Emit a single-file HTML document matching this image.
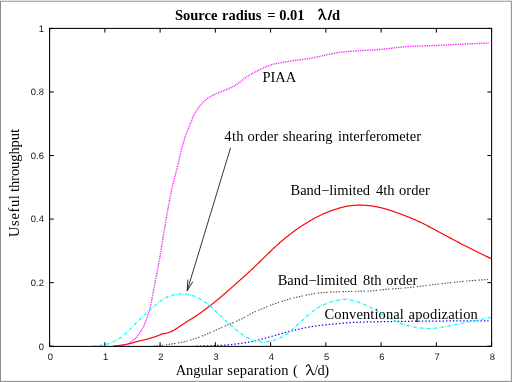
<!DOCTYPE html>
<html><head><meta charset="utf-8"><title>plot</title>
<style>
html,body{margin:0;padding:0;background:#fff;}
body{width:512px;height:382px;overflow:hidden;position:relative;font-family:"Liberation Sans",sans-serif;}
#b{position:absolute;left:0;top:0;width:512px;height:382px;will-change:transform;}
.e{position:absolute;}
</style></head><body>
<svg id="b" width="512" height="382" viewBox="0 0 512 382">
<rect x="0" y="0" width="512" height="382" fill="#fff"/>
<defs><clipPath id="cp"><rect x="50" y="28" width="441.2" height="320"/></clipPath></defs>
<g clip-path="url(#cp)">
<path d="M113.0,346.19 L113.5,346.14 L114.0,346.10 L114.5,346.05 L115.0,346.00 L115.5,345.95 L116.0,345.89 L116.5,345.84 L117.0,345.78 L117.5,345.72 L118.0,345.65 L118.5,345.59 L119.0,345.52 L119.5,345.45 L120.0,345.38 L120.5,345.31 L121.0,345.24 L121.5,345.16 L122.0,345.08 L122.5,345.01 L123.0,344.93 L123.5,344.85 L124.0,344.76 L124.5,344.68 L125.0,344.59 L125.5,344.50 L126.0,344.41 L126.5,344.31 L127.0,344.21 L127.5,344.10 L128.0,343.99 L128.5,343.87 L129.0,343.75 L129.5,343.63 L130.0,343.50 L130.5,343.37 L131.0,343.24 L131.5,343.11 L132.0,342.98 L132.5,342.84 L133.0,342.71 L133.5,342.57 L134.0,342.44 L134.5,342.30 L135.0,342.17 L135.5,342.04 L136.0,341.91 L136.5,341.78 L137.0,341.65 L137.5,341.53 L138.0,341.40 L138.5,341.28 L139.0,341.16 L139.5,341.04 L140.0,340.91 L140.5,340.79 L141.0,340.67 L141.5,340.55 L142.0,340.42 L142.5,340.30 L143.0,340.18 L143.5,340.05 L144.0,339.93 L144.5,339.80 L145.0,339.67 L145.5,339.54 L146.0,339.41 L146.5,339.28 L147.0,339.14 L147.5,339.00 L148.0,338.87 L148.5,338.72 L149.0,338.58 L149.5,338.44 L150.0,338.29 L150.5,338.14 L151.0,337.99 L151.5,337.83 L152.0,337.68 L152.5,337.52 L153.0,337.36 L153.5,337.20 L154.0,337.03 L154.5,336.87 L155.0,336.70 L155.5,336.53 L156.0,336.36 L156.5,336.19 L157.0,336.01 L157.5,335.83 L158.0,335.64 L158.5,335.45 L159.0,335.24 L159.5,335.03 L160.0,334.82 L160.5,334.61 L161.0,334.41 L161.5,334.22 L162.0,334.05 L162.5,333.90 L163.0,333.76 L163.5,333.65 L164.0,333.55 L164.5,333.46 L165.0,333.38 L165.5,333.30 L166.0,333.21 L166.5,333.11 L167.0,333.01 L167.5,332.89 L168.0,332.75 L168.5,332.60 L169.0,332.42 L169.5,332.24 L170.0,332.04 L170.5,331.82 L171.0,331.60 L171.5,331.37 L172.0,331.13 L172.5,330.88 L173.0,330.62 L173.5,330.35 L174.0,330.06 L174.5,329.77 L175.0,329.47 L175.5,329.16 L176.0,328.84 L176.5,328.52 L177.0,328.20 L177.5,327.88 L178.0,327.55 L178.5,327.23 L179.0,326.90 L179.5,326.57 L180.0,326.24 L180.5,325.90 L181.0,325.57 L181.5,325.23 L182.0,324.89 L182.5,324.55 L183.0,324.21 L183.5,323.87 L184.0,323.54 L184.5,323.21 L185.0,322.88 L185.5,322.56 L186.0,322.24 L186.5,321.92 L187.0,321.60 L187.5,321.28 L188.0,320.97 L188.5,320.66 L189.0,320.35 L189.5,320.04 L190.0,319.72 L190.5,319.41 L191.0,319.10 L191.5,318.79 L192.0,318.47 L192.5,318.16 L193.0,317.84 L193.5,317.52 L194.0,317.20 L194.5,316.88 L195.0,316.55 L195.5,316.23 L196.0,315.90 L196.5,315.56 L197.0,315.23 L197.5,314.89 L198.0,314.55 L198.5,314.21 L199.0,313.86 L199.5,313.52 L200.0,313.17 L200.5,312.82 L201.0,312.46 L201.5,312.11 L202.0,311.75 L202.5,311.39 L203.0,311.03 L203.5,310.67 L204.0,310.31 L204.5,309.94 L205.0,309.57 L205.5,309.20 L206.0,308.83 L206.5,308.46 L207.0,308.08 L207.5,307.71 L208.0,307.33 L208.5,306.95 L209.0,306.56 L209.5,306.18 L210.0,305.79 L210.5,305.40 L211.0,305.01 L211.5,304.62 L212.0,304.23 L212.5,303.83 L213.0,303.43 L213.5,303.03 L214.0,302.63 L214.5,302.23 L215.0,301.83 L215.5,301.42 L216.0,301.01 L216.5,300.60 L217.0,300.19 L217.5,299.78 L218.0,299.37 L218.5,298.95 L219.0,298.53 L219.5,298.12 L220.0,297.70 L220.5,297.28 L221.0,296.85 L221.5,296.43 L222.0,296.00 L222.5,295.58 L223.0,295.15 L223.5,294.72 L224.0,294.29 L224.5,293.86 L225.0,293.43 L225.5,292.99 L226.0,292.56 L226.5,292.12 L227.0,291.68 L227.5,291.25 L228.0,290.81 L228.5,290.37 L229.0,289.93 L229.5,289.48 L230.0,289.04 L230.5,288.60 L231.0,288.16 L231.5,287.71 L232.0,287.27 L232.5,286.82 L233.0,286.38 L233.5,285.93 L234.0,285.49 L234.5,285.04 L235.0,284.59 L235.5,284.15 L236.0,283.70 L236.5,283.25 L237.0,282.81 L237.5,282.36 L238.0,281.91 L238.5,281.47 L239.0,281.02 L239.5,280.57 L240.0,280.13 L240.5,279.68 L241.0,279.23 L241.5,278.78 L242.0,278.34 L242.5,277.89 L243.0,277.44 L243.5,276.99 L244.0,276.54 L244.5,276.09 L245.0,275.64 L245.5,275.19 L246.0,274.74 L246.5,274.29 L247.0,273.83 L247.5,273.38 L248.0,272.92 L248.5,272.47 L249.0,272.01 L249.5,271.55 L250.0,271.09 L250.5,270.62 L251.0,270.16 L251.5,269.69 L252.0,269.22 L252.5,268.76 L253.0,268.28 L253.5,267.81 L254.0,267.34 L254.5,266.86 L255.0,266.38 L255.5,265.90 L256.0,265.42 L256.5,264.94 L257.0,264.45 L257.5,263.97 L258.0,263.48 L258.5,262.99 L259.0,262.51 L259.5,262.02 L260.0,261.53 L260.5,261.03 L261.0,260.54 L261.5,260.05 L262.0,259.56 L262.5,259.07 L263.0,258.58 L263.5,258.08 L264.0,257.59 L264.5,257.10 L265.0,256.61 L265.5,256.12 L266.0,255.63 L266.5,255.14 L267.0,254.66 L267.5,254.17 L268.0,253.68 L268.5,253.20 L269.0,252.72 L269.5,252.24 L270.0,251.76 L270.5,251.28 L271.0,250.80 L271.5,250.33 L272.0,249.85 L272.5,249.38 L273.0,248.91 L273.5,248.45 L274.0,247.98 L274.5,247.52 L275.0,247.05 L275.5,246.59 L276.0,246.14 L276.5,245.68 L277.0,245.23 L277.5,244.78 L278.0,244.33 L278.5,243.88 L279.0,243.44 L279.5,242.99 L280.0,242.55 L280.5,242.12 L281.0,241.68 L281.5,241.25 L282.0,240.82 L282.5,240.39 L283.0,239.96 L283.5,239.54 L284.0,239.12 L284.5,238.70 L285.0,238.28 L285.5,237.87 L286.0,237.46 L286.5,237.05 L287.0,236.65 L287.5,236.25 L288.0,235.85 L288.5,235.45 L289.0,235.06 L289.5,234.66 L290.0,234.28 L290.5,233.89 L291.0,233.51 L291.5,233.13 L292.0,232.75 L292.5,232.38 L293.0,232.01 L293.5,231.64 L294.0,231.27 L294.5,230.91 L295.0,230.55 L295.5,230.19 L296.0,229.84 L296.5,229.49 L297.0,229.14 L297.5,228.80 L298.0,228.45 L298.5,228.11 L299.0,227.78 L299.5,227.44 L300.0,227.11 L300.5,226.78 L301.0,226.45 L301.5,226.12 L302.0,225.80 L302.5,225.48 L303.0,225.16 L303.5,224.84 L304.0,224.52 L304.5,224.21 L305.0,223.90 L305.5,223.59 L306.0,223.28 L306.5,222.97 L307.0,222.66 L307.5,222.36 L308.0,222.06 L308.5,221.75 L309.0,221.45 L309.5,221.16 L310.0,220.86 L310.5,220.57 L311.0,220.27 L311.5,219.98 L312.0,219.69 L312.5,219.41 L313.0,219.12 L313.5,218.84 L314.0,218.56 L314.5,218.28 L315.0,218.01 L315.5,217.73 L316.0,217.46 L316.5,217.20 L317.0,216.93 L317.5,216.67 L318.0,216.42 L318.5,216.16 L319.0,215.91 L319.5,215.67 L320.0,215.42 L320.5,215.18 L321.0,214.95 L321.5,214.72 L322.0,214.49 L322.5,214.26 L323.0,214.04 L323.5,213.82 L324.0,213.61 L324.5,213.39 L325.0,213.18 L325.5,212.98 L326.0,212.77 L326.5,212.57 L327.0,212.37 L327.5,212.18 L328.0,211.98 L328.5,211.79 L329.0,211.60 L329.5,211.41 L330.0,211.23 L330.5,211.04 L331.0,210.86 L331.5,210.68 L332.0,210.50 L332.5,210.32 L333.0,210.14 L333.5,209.97 L334.0,209.79 L334.5,209.62 L335.0,209.45 L335.5,209.28 L336.0,209.12 L336.5,208.96 L337.0,208.79 L337.5,208.64 L338.0,208.48 L338.5,208.33 L339.0,208.18 L339.5,208.03 L340.0,207.89 L340.5,207.75 L341.0,207.61 L341.5,207.48 L342.0,207.35 L342.5,207.22 L343.0,207.10 L343.5,206.98 L344.0,206.86 L344.5,206.75 L345.0,206.64 L345.5,206.54 L346.0,206.44 L346.5,206.34 L347.0,206.25 L347.5,206.16 L348.0,206.08 L348.5,206.00 L349.0,205.92 L349.5,205.85 L350.0,205.78 L350.5,205.72 L351.0,205.65 L351.5,205.60 L352.0,205.54 L352.5,205.49 L353.0,205.44 L353.5,205.40 L354.0,205.36 L354.5,205.32 L355.0,205.29 L355.5,205.25 L356.0,205.23 L356.5,205.20 L357.0,205.18 L357.5,205.17 L358.0,205.15 L358.5,205.14 L359.0,205.13 L359.5,205.13 L360.0,205.12 L360.5,205.13 L361.0,205.13 L361.5,205.14 L362.0,205.15 L362.5,205.16 L363.0,205.18 L363.5,205.20 L364.0,205.22 L364.5,205.25 L365.0,205.27 L365.5,205.31 L366.0,205.34 L366.5,205.38 L367.0,205.42 L367.5,205.46 L368.0,205.51 L368.5,205.56 L369.0,205.61 L369.5,205.66 L370.0,205.72 L370.5,205.78 L371.0,205.85 L371.5,205.91 L372.0,205.98 L372.5,206.06 L373.0,206.13 L373.5,206.21 L374.0,206.29 L374.5,206.38 L375.0,206.46 L375.5,206.56 L376.0,206.65 L376.5,206.74 L377.0,206.84 L377.5,206.95 L378.0,207.05 L378.5,207.16 L379.0,207.27 L379.5,207.38 L380.0,207.50 L380.5,207.62 L381.0,207.74 L381.5,207.86 L382.0,207.99 L382.5,208.12 L383.0,208.25 L383.5,208.38 L384.0,208.52 L384.5,208.66 L385.0,208.80 L385.5,208.94 L386.0,209.09 L386.5,209.24 L387.0,209.39 L387.5,209.54 L388.0,209.69 L388.5,209.85 L389.0,210.01 L389.5,210.17 L390.0,210.33 L390.5,210.49 L391.0,210.66 L391.5,210.82 L392.0,210.99 L392.5,211.16 L393.0,211.33 L393.5,211.50 L394.0,211.67 L394.5,211.85 L395.0,212.02 L395.5,212.20 L396.0,212.37 L396.5,212.55 L397.0,212.73 L397.5,212.91 L398.0,213.09 L398.5,213.27 L399.0,213.45 L399.5,213.63 L400.0,213.82 L400.5,214.00 L401.0,214.19 L401.5,214.37 L402.0,214.56 L402.5,214.74 L403.0,214.93 L403.5,215.12 L404.0,215.31 L404.5,215.50 L405.0,215.70 L405.5,215.89 L406.0,216.08 L406.5,216.28 L407.0,216.48 L407.5,216.67 L408.0,216.87 L408.5,217.07 L409.0,217.27 L409.5,217.48 L410.0,217.68 L410.5,217.89 L411.0,218.09 L411.5,218.30 L412.0,218.51 L412.5,218.73 L413.0,218.94 L413.5,219.15 L414.0,219.37 L414.5,219.59 L415.0,219.81 L415.5,220.03 L416.0,220.25 L416.5,220.48 L417.0,220.71 L417.5,220.93 L418.0,221.16 L418.5,221.40 L419.0,221.63 L419.5,221.87 L420.0,222.10 L420.5,222.34 L421.0,222.58 L421.5,222.83 L422.0,223.07 L422.5,223.31 L423.0,223.56 L423.5,223.81 L424.0,224.06 L424.5,224.31 L425.0,224.56 L425.5,224.82 L426.0,225.07 L426.5,225.33 L427.0,225.59 L427.5,225.84 L428.0,226.10 L428.5,226.36 L429.0,226.62 L429.5,226.89 L430.0,227.15 L430.5,227.41 L431.0,227.68 L431.5,227.94 L432.0,228.21 L432.5,228.47 L433.0,228.74 L433.5,229.01 L434.0,229.27 L434.5,229.54 L435.0,229.81 L435.5,230.08 L436.0,230.35 L436.5,230.61 L437.0,230.88 L437.5,231.15 L438.0,231.42 L438.5,231.69 L439.0,231.96 L439.5,232.23 L440.0,232.50 L440.5,232.77 L441.0,233.04 L441.5,233.31 L442.0,233.58 L442.5,233.85 L443.0,234.12 L443.5,234.39 L444.0,234.66 L444.5,234.92 L445.0,235.19 L445.5,235.46 L446.0,235.73 L446.5,236.00 L447.0,236.27 L447.5,236.54 L448.0,236.80 L448.5,237.07 L449.0,237.34 L449.5,237.61 L450.0,237.88 L450.5,238.14 L451.0,238.41 L451.5,238.68 L452.0,238.94 L452.5,239.21 L453.0,239.47 L453.5,239.74 L454.0,240.00 L454.5,240.27 L455.0,240.53 L455.5,240.80 L456.0,241.06 L456.5,241.32 L457.0,241.58 L457.5,241.85 L458.0,242.11 L458.5,242.37 L459.0,242.63 L459.5,242.89 L460.0,243.15 L460.5,243.41 L461.0,243.67 L461.5,243.93 L462.0,244.19 L462.5,244.44 L463.0,244.70 L463.5,244.96 L464.0,245.21 L464.5,245.47 L465.0,245.72 L465.5,245.98 L466.0,246.23 L466.5,246.49 L467.0,246.74 L467.5,246.99 L468.0,247.25 L468.5,247.50 L469.0,247.75 L469.5,248.00 L470.0,248.25 L470.5,248.50 L471.0,248.75 L471.5,249.00 L472.0,249.25 L472.5,249.50 L473.0,249.75 L473.5,250.00 L474.0,250.25 L474.5,250.49 L475.0,250.74 L475.5,250.99 L476.0,251.24 L476.5,251.48 L477.0,251.73 L477.5,251.98 L478.0,252.22 L478.5,252.47 L479.0,252.72 L479.5,252.96 L480.0,253.21 L480.5,253.46 L481.0,253.70 L481.5,253.95 L482.0,254.19 L482.5,254.44 L483.0,254.68 L483.5,254.93 L484.0,255.17 L484.5,255.42 L485.0,255.66 L485.5,255.91 L486.0,256.15 L486.5,256.40 L487.0,256.64 L487.5,256.88 L488.0,257.13 L488.5,257.37 L489.0,257.61 L489.5,257.85 L490.0,258.09 L490.5,258.34 L491.0,258.58 L491.2,258.82" fill="none" stroke="#ff0000" stroke-width="1.18"/>
<path d="M196.5,346.15 L197.0,346.14 L197.5,346.13 L198.0,346.12 L198.5,346.11 L199.0,346.10 L199.5,346.08 L200.0,346.07 L200.5,346.06 L201.0,346.05 L201.5,346.04 L202.0,346.02 L202.5,346.01 L203.0,346.00 L203.5,345.99 L204.0,345.97 L204.5,345.96 L205.0,345.94 L205.5,345.93 L206.0,345.92 L206.5,345.90 L207.0,345.89 L207.5,345.87 L208.0,345.85 L208.5,345.84 L209.0,345.82 L209.5,345.81 L210.0,345.79 L210.5,345.77 L211.0,345.75 L211.5,345.74 L212.0,345.72 L212.5,345.70 L213.0,345.68 L213.5,345.66 L214.0,345.64 L214.5,345.62 L215.0,345.60 L215.5,345.58 L216.0,345.56 L216.5,345.54 L217.0,345.51 L217.5,345.49 L218.0,345.47 L218.5,345.44 L219.0,345.42 L219.5,345.39 L220.0,345.37 L220.5,345.34 L221.0,345.31 L221.5,345.28 L222.0,345.25 L222.5,345.22 L223.0,345.18 L223.5,345.15 L224.0,345.12 L224.5,345.08 L225.0,345.04 L225.5,345.01 L226.0,344.97 L226.5,344.93 L227.0,344.89 L227.5,344.84 L228.0,344.80 L228.5,344.76 L229.0,344.71 L229.5,344.67 L230.0,344.62 L230.5,344.57 L231.0,344.52 L231.5,344.48 L232.0,344.42 L232.5,344.37 L233.0,344.32 L233.5,344.27 L234.0,344.22 L234.5,344.16 L235.0,344.11 L235.5,344.05 L236.0,343.99 L236.5,343.94 L237.0,343.88 L237.5,343.82 L238.0,343.76 L238.5,343.70 L239.0,343.63 L239.5,343.57 L240.0,343.50 L240.5,343.44 L241.0,343.37 L241.5,343.30 L242.0,343.23 L242.5,343.16 L243.0,343.08 L243.5,343.01 L244.0,342.93 L244.5,342.86 L245.0,342.78 L245.5,342.70 L246.0,342.62 L246.5,342.53 L247.0,342.45 L247.5,342.36 L248.0,342.27 L248.5,342.18 L249.0,342.09 L249.5,342.00 L250.0,341.90 L250.5,341.81 L251.0,341.71 L251.5,341.61 L252.0,341.51 L252.5,341.40 L253.0,341.29 L253.5,341.19 L254.0,341.08 L254.5,340.97 L255.0,340.85 L255.5,340.74 L256.0,340.62 L256.5,340.50 L257.0,340.38 L257.5,340.26 L258.0,340.14 L258.5,340.01 L259.0,339.88 L259.5,339.76 L260.0,339.63 L260.5,339.50 L261.0,339.36 L261.5,339.23 L262.0,339.10 L262.5,338.96 L263.0,338.82 L263.5,338.68 L264.0,338.55 L264.5,338.40 L265.0,338.26 L265.5,338.12 L266.0,337.98 L266.5,337.84 L267.0,337.69 L267.5,337.55 L268.0,337.41 L268.5,337.26 L269.0,337.12 L269.5,336.97 L270.0,336.83 L270.5,336.69 L271.0,336.54 L271.5,336.40 L272.0,336.25 L272.5,336.11 L273.0,335.97 L273.5,335.83 L274.0,335.68 L274.5,335.54 L275.0,335.40 L275.5,335.26 L276.0,335.12 L276.5,334.97 L277.0,334.83 L277.5,334.69 L278.0,334.55 L278.5,334.41 L279.0,334.28 L279.5,334.14 L280.0,334.00 L280.5,333.86 L281.0,333.72 L281.5,333.59 L282.0,333.45 L282.5,333.31 L283.0,333.18 L283.5,333.04 L284.0,332.91 L284.5,332.78 L285.0,332.64 L285.5,332.51 L286.0,332.38 L286.5,332.25 L287.0,332.12 L287.5,331.99 L288.0,331.86 L288.5,331.73 L289.0,331.60 L289.5,331.47 L290.0,331.34 L290.5,331.22 L291.0,331.09 L291.5,330.96 L292.0,330.84 L292.5,330.71 L293.0,330.59 L293.5,330.47 L294.0,330.35 L294.5,330.22 L295.0,330.10 L295.5,329.98 L296.0,329.86 L296.5,329.75 L297.0,329.63 L297.5,329.51 L298.0,329.40 L298.5,329.28 L299.0,329.17 L299.5,329.05 L300.0,328.94 L300.5,328.83 L301.0,328.72 L301.5,328.61 L302.0,328.50 L302.5,328.39 L303.0,328.28 L303.5,328.17 L304.0,328.07 L304.5,327.96 L305.0,327.86 L305.5,327.75 L306.0,327.65 L306.5,327.55 L307.0,327.45 L307.5,327.35 L308.0,327.26 L308.5,327.16 L309.0,327.07 L309.5,326.98 L310.0,326.89 L310.5,326.80 L311.0,326.71 L311.5,326.63 L312.0,326.55 L312.5,326.47 L313.0,326.39 L313.5,326.31 L314.0,326.23 L314.5,326.16 L315.0,326.09 L315.5,326.02 L316.0,325.95 L316.5,325.88 L317.0,325.82 L317.5,325.75 L318.0,325.69 L318.5,325.62 L319.0,325.56 L319.5,325.50 L320.0,325.44 L320.5,325.39 L321.0,325.33 L321.5,325.27 L322.0,325.22 L322.5,325.16 L323.0,325.11 L323.5,325.05 L324.0,325.00 L324.5,324.94 L325.0,324.89 L325.5,324.84 L326.0,324.79 L326.5,324.74 L327.0,324.69 L327.5,324.64 L328.0,324.59 L328.5,324.54 L329.0,324.49 L329.5,324.44 L330.0,324.39 L330.5,324.34 L331.0,324.30 L331.5,324.25 L332.0,324.20 L332.5,324.16 L333.0,324.11 L333.5,324.06 L334.0,324.02 L334.5,323.97 L335.0,323.93 L335.5,323.88 L336.0,323.84 L336.5,323.79 L337.0,323.75 L337.5,323.71 L338.0,323.66 L338.5,323.62 L339.0,323.57 L339.5,323.53 L340.0,323.49 L340.5,323.44 L341.0,323.40 L341.5,323.35 L342.0,323.31 L342.5,323.27 L343.0,323.22 L343.5,323.18 L344.0,323.14 L344.5,323.10 L345.0,323.05 L345.5,323.01 L346.0,322.97 L346.5,322.93 L347.0,322.89 L347.5,322.85 L348.0,322.81 L348.5,322.78 L349.0,322.74 L349.5,322.71 L350.0,322.67 L350.5,322.64 L351.0,322.60 L351.5,322.57 L352.0,322.54 L352.5,322.51 L353.0,322.48 L353.5,322.46 L354.0,322.43 L354.5,322.40 L355.0,322.38 L355.5,322.35 L356.0,322.33 L356.5,322.31 L357.0,322.29 L357.5,322.26 L358.0,322.24 L358.5,322.22 L359.0,322.20 L359.5,322.18 L360.0,322.16 L360.5,322.14 L361.0,322.13 L361.5,322.11 L362.0,322.09 L362.5,322.07 L363.0,322.06 L363.5,322.04 L364.0,322.02 L364.5,322.01 L365.0,321.99 L365.5,321.98 L366.0,321.97 L366.5,321.95 L367.0,321.94 L367.5,321.93 L368.0,321.91 L368.5,321.90 L369.0,321.89 L369.5,321.88 L370.0,321.86 L370.5,321.85 L371.0,321.84 L371.5,321.83 L372.0,321.82 L372.5,321.81 L373.0,321.80 L373.5,321.79 L374.0,321.78 L374.5,321.77 L375.0,321.76 L375.5,321.75 L376.0,321.75 L376.5,321.74 L377.0,321.73 L377.5,321.72 L378.0,321.71 L378.5,321.70 L379.0,321.70 L379.5,321.69 L380.0,321.68 L380.5,321.67 L381.0,321.67 L381.5,321.66 L382.0,321.65 L382.5,321.64 L383.0,321.64 L383.5,321.63 L384.0,321.62 L384.5,321.62 L385.0,321.61 L385.5,321.60 L386.0,321.60 L386.5,321.59 L387.0,321.58 L387.5,321.58 L388.0,321.57 L388.5,321.56 L389.0,321.56 L389.5,321.55 L390.0,321.55 L390.5,321.54 L391.0,321.53 L391.5,321.53 L392.0,321.52 L392.5,321.51 L393.0,321.51 L393.5,321.50 L394.0,321.49 L394.5,321.49 L395.0,321.48 L395.5,321.48 L396.0,321.47 L396.5,321.46 L397.0,321.46 L397.5,321.45 L398.0,321.44 L398.5,321.44 L399.0,321.43 L399.5,321.42 L400.0,321.41 L400.5,321.41 L401.0,321.40 L401.5,321.39 L402.0,321.39 L402.5,321.38 L403.0,321.37 L403.5,321.36 L404.0,321.36 L404.5,321.35 L405.0,321.34 L405.5,321.33 L406.0,321.33 L406.5,321.32 L407.0,321.31 L407.5,321.30 L408.0,321.30 L408.5,321.29 L409.0,321.28 L409.5,321.27 L410.0,321.27 L410.5,321.26 L411.0,321.25 L411.5,321.24 L412.0,321.24 L412.5,321.23 L413.0,321.22 L413.5,321.21 L414.0,321.21 L414.5,321.20 L415.0,321.19 L415.5,321.19 L416.0,321.18 L416.5,321.17 L417.0,321.17 L417.5,321.16 L418.0,321.16 L418.5,321.15 L419.0,321.14 L419.5,321.14 L420.0,321.13 L420.5,321.13 L421.0,321.12 L421.5,321.12 L422.0,321.12 L422.5,321.11 L423.0,321.11 L423.5,321.10 L424.0,321.10 L424.5,321.10 L425.0,321.09 L425.5,321.09 L426.0,321.09 L426.5,321.08 L427.0,321.08 L427.5,321.08 L428.0,321.07 L428.5,321.07 L429.0,321.07 L429.5,321.07 L430.0,321.06 L430.5,321.06 L431.0,321.06 L431.5,321.06 L432.0,321.06 L432.5,321.05 L433.0,321.05 L433.5,321.05 L434.0,321.05 L434.5,321.04 L435.0,321.04 L435.5,321.04 L436.0,321.04 L436.5,321.03 L437.0,321.03 L437.5,321.03 L438.0,321.03 L438.5,321.03 L439.0,321.02 L439.5,321.02 L440.0,321.02 L440.5,321.02 L441.0,321.02 L441.5,321.01 L442.0,321.01 L442.5,321.01 L443.0,321.01 L443.5,321.01 L444.0,321.00 L444.5,321.00 L445.0,321.00 L445.5,321.00 L446.0,321.00 L446.5,320.99 L447.0,320.99 L447.5,320.99 L448.0,320.99 L448.5,320.99 L449.0,320.99 L449.5,320.98 L450.0,320.98 L450.5,320.98 L451.0,320.98 L451.5,320.98 L452.0,320.98 L452.5,320.97 L453.0,320.97 L453.5,320.97 L454.0,320.97 L454.5,320.97 L455.0,320.97 L455.5,320.97 L456.0,320.96 L456.5,320.96 L457.0,320.96 L457.5,320.96 L458.0,320.96 L458.5,320.96 L459.0,320.96 L459.5,320.95 L460.0,320.95 L460.5,320.95 L461.0,320.95 L461.5,320.95 L462.0,320.95 L462.5,320.95 L463.0,320.95 L463.5,320.94 L464.0,320.94 L464.5,320.94 L465.0,320.94 L465.5,320.94 L466.0,320.94 L466.5,320.94 L467.0,320.94 L467.5,320.94 L468.0,320.93 L468.5,320.93 L469.0,320.93 L469.5,320.93 L470.0,320.93 L470.5,320.93 L471.0,320.93 L471.5,320.93 L472.0,320.93 L472.5,320.93 L473.0,320.93 L473.5,320.93 L474.0,320.92 L474.5,320.92 L475.0,320.92 L475.5,320.92 L476.0,320.92 L476.5,320.92 L477.0,320.92 L477.5,320.92 L478.0,320.92 L478.5,320.92 L479.0,320.92 L479.5,320.92 L480.0,320.92 L480.5,320.92 L481.0,320.92 L481.5,320.92 L482.0,320.92 L482.5,320.92 L483.0,320.92 L483.5,320.92 L484.0,320.92 L484.5,320.91 L485.0,320.91 L485.5,320.91 L486.0,320.91 L486.5,320.91 L487.0,320.91 L487.5,320.91 L488.0,320.91 L488.5,320.91" fill="none" stroke="#0000ff" stroke-width="1.25" stroke-dasharray="1.38,2.07"/>
<path d="M114.5,346.16 L115.0,346.14 L115.5,346.12 L116.0,346.10 L116.5,346.07 L117.0,346.05 L117.5,346.02 L118.0,345.99 L118.5,345.95 L119.0,345.91 L119.5,345.86 L120.0,345.80 L120.5,345.73 L121.0,345.66 L121.5,345.57 L122.0,345.48 L122.5,345.39 L123.0,345.28 L123.5,345.17 L124.0,345.05 L124.5,344.92 L125.0,344.79 L125.5,344.65 L126.0,344.51 L126.5,344.35 L127.0,344.18 L127.5,344.00 L128.0,343.80 L128.5,343.57 L129.0,343.31 L129.5,343.03 L130.0,342.72 L130.5,342.39 L131.0,342.03 L131.5,341.66 L132.0,341.28 L132.5,340.88 L133.0,340.48 L133.5,340.06 L134.0,339.63 L134.5,339.19 L135.0,338.72 L135.5,338.24 L136.0,337.73 L136.5,337.20 L137.0,336.65 L137.5,336.08 L138.0,335.48 L138.5,334.85 L139.0,334.18 L139.5,333.49 L140.0,332.76 L140.5,332.00 L141.0,331.20 L141.5,330.35 L142.0,329.46 L142.5,328.52 L143.0,327.52 L143.5,326.46 L144.0,325.34 L144.5,324.17 L145.0,322.97 L145.5,321.73 L146.0,320.46 L146.5,319.16 L147.0,317.83 L147.5,316.44 L148.0,314.99 L148.5,313.46 L149.0,311.81 L149.5,310.04 L150.0,308.13 L150.5,306.07 L151.0,303.85 L151.5,301.48 L152.0,298.96 L152.5,296.34 L153.0,293.66 L153.5,290.96 L154.0,288.28 L154.5,285.63 L155.0,283.02 L155.5,280.42 L156.0,277.83 L156.5,275.24 L157.0,272.64 L157.5,270.03 L158.0,267.39 L158.5,264.71 L159.0,261.98 L159.5,259.18 L160.0,256.31 L160.5,253.36 L161.0,250.34 L161.5,247.27 L162.0,244.18 L162.5,241.08 L163.0,237.99 L163.5,234.92 L164.0,231.88 L164.5,228.88 L165.0,225.90 L165.5,222.96 L166.0,220.04 L166.5,217.16 L167.0,214.30 L167.5,211.47 L168.0,208.67 L168.5,205.91 L169.0,203.20 L169.5,200.54 L170.0,197.95 L170.5,195.44 L171.0,193.00 L171.5,190.64 L172.0,188.36 L172.5,186.15 L173.0,184.00 L173.5,181.91 L174.0,179.89 L174.5,177.93 L175.0,176.02 L175.5,174.14 L176.0,172.27 L176.5,170.39 L177.0,168.47 L177.5,166.47 L178.0,164.39 L178.5,162.24 L179.0,160.05 L179.5,157.84 L180.0,155.67 L180.5,153.57 L181.0,151.56 L181.5,149.64 L182.0,147.79 L182.5,146.01 L183.0,144.27 L183.5,142.55 L184.0,140.87 L184.5,139.21 L185.0,137.58 L185.5,136.01 L186.0,134.51 L186.5,133.08 L187.0,131.73 L187.5,130.44 L188.0,129.21 L188.5,128.01 L189.0,126.83 L189.5,125.65 L190.0,124.46 L190.5,123.26 L191.0,122.06 L191.5,120.85 L192.0,119.64 L192.5,118.45 L193.0,117.29 L193.5,116.17 L194.0,115.11 L194.5,114.11 L195.0,113.17 L195.5,112.29 L196.0,111.44 L196.5,110.64 L197.0,109.87 L197.5,109.13 L198.0,108.41 L198.5,107.72 L199.0,107.06 L199.5,106.41 L200.0,105.79 L200.5,105.19 L201.0,104.61 L201.5,104.04 L202.0,103.49 L202.5,102.96 L203.0,102.43 L203.5,101.93 L204.0,101.43 L204.5,100.95 L205.0,100.49 L205.5,100.04 L206.0,99.61 L206.5,99.19 L207.0,98.80 L207.5,98.42 L208.0,98.06 L208.5,97.72 L209.0,97.39 L209.5,97.08 L210.0,96.79 L210.5,96.51 L211.0,96.23 L211.5,95.97 L212.0,95.72 L212.5,95.48 L213.0,95.24 L213.5,95.00 L214.0,94.77 L214.5,94.55 L215.0,94.32 L215.5,94.10 L216.0,93.87 L216.5,93.65 L217.0,93.44 L217.5,93.22 L218.0,93.01 L218.5,92.81 L219.0,92.60 L219.5,92.40 L220.0,92.20 L220.5,91.99 L221.0,91.79 L221.5,91.59 L222.0,91.39 L222.5,91.18 L223.0,90.98 L223.5,90.77 L224.0,90.56 L224.5,90.36 L225.0,90.15 L225.5,89.95 L226.0,89.74 L226.5,89.53 L227.0,89.32 L227.5,89.11 L228.0,88.90 L228.5,88.68 L229.0,88.45 L229.5,88.23 L230.0,88.00 L230.5,87.77 L231.0,87.53 L231.5,87.29 L232.0,87.05 L232.5,86.80 L233.0,86.55 L233.5,86.30 L234.0,86.03 L234.5,85.77 L235.0,85.49 L235.5,85.21 L236.0,84.91 L236.5,84.61 L237.0,84.29 L237.5,83.95 L238.0,83.60 L238.5,83.24 L239.0,82.85 L239.5,82.46 L240.0,82.05 L240.5,81.64 L241.0,81.22 L241.5,80.80 L242.0,80.38 L242.5,79.96 L243.0,79.55 L243.5,79.15 L244.0,78.76 L244.5,78.38 L245.0,78.02 L245.5,77.67 L246.0,77.33 L246.5,77.00 L247.0,76.68 L247.5,76.37 L248.0,76.06 L248.5,75.76 L249.0,75.47 L249.5,75.18 L250.0,74.89 L250.5,74.60 L251.0,74.32 L251.5,74.05 L252.0,73.77 L252.5,73.50 L253.0,73.22 L253.5,72.95 L254.0,72.68 L254.5,72.42 L255.0,72.15 L255.5,71.88 L256.0,71.61 L256.5,71.34 L257.0,71.08 L257.5,70.81 L258.0,70.55 L258.5,70.29 L259.0,70.03 L259.5,69.77 L260.0,69.52 L260.5,69.27 L261.0,69.02 L261.5,68.78 L262.0,68.54 L262.5,68.31 L263.0,68.08 L263.5,67.86 L264.0,67.64 L264.5,67.42 L265.0,67.21 L265.5,67.00 L266.0,66.80 L266.5,66.59 L267.0,66.39 L267.5,66.19 L268.0,65.99 L268.5,65.80 L269.0,65.61 L269.5,65.43 L270.0,65.25 L270.5,65.08 L271.0,64.91 L271.5,64.75 L272.0,64.59 L272.5,64.44 L273.0,64.30 L273.5,64.17 L274.0,64.04 L274.5,63.92 L275.0,63.81 L275.5,63.70 L276.0,63.59 L276.5,63.49 L277.0,63.39 L277.5,63.29 L278.0,63.20 L278.5,63.11 L279.0,63.02 L279.5,62.93 L280.0,62.84 L280.5,62.76 L281.0,62.67 L281.5,62.59 L282.0,62.50 L282.5,62.42 L283.0,62.33 L283.5,62.25 L284.0,62.16 L284.5,62.08 L285.0,62.00 L285.5,61.91 L286.0,61.83 L286.5,61.75 L287.0,61.67 L287.5,61.59 L288.0,61.51 L288.5,61.43 L289.0,61.35 L289.5,61.28 L290.0,61.20 L290.5,61.12 L291.0,61.04 L291.5,60.97 L292.0,60.89 L292.5,60.82 L293.0,60.74 L293.5,60.66 L294.0,60.59 L294.5,60.52 L295.0,60.44 L295.5,60.37 L296.0,60.29 L296.5,60.22 L297.0,60.15 L297.5,60.07 L298.0,60.00 L298.5,59.93 L299.0,59.86 L299.5,59.79 L300.0,59.71 L300.5,59.64 L301.0,59.57 L301.5,59.50 L302.0,59.43 L302.5,59.36 L303.0,59.29 L303.5,59.22 L304.0,59.15 L304.5,59.08 L305.0,59.01 L305.5,58.94 L306.0,58.87 L306.5,58.80 L307.0,58.74 L307.5,58.67 L308.0,58.60 L308.5,58.52 L309.0,58.45 L309.5,58.37 L310.0,58.29 L310.5,58.21 L311.0,58.12 L311.5,58.04 L312.0,57.94 L312.5,57.85 L313.0,57.76 L313.5,57.66 L314.0,57.56 L314.5,57.46 L315.0,57.36 L315.5,57.25 L316.0,57.15 L316.5,57.05 L317.0,56.94 L317.5,56.83 L318.0,56.73 L318.5,56.62 L319.0,56.52 L319.5,56.41 L320.0,56.30 L320.5,56.20 L321.0,56.09 L321.5,55.98 L322.0,55.88 L322.5,55.77 L323.0,55.66 L323.5,55.55 L324.0,55.43 L324.5,55.32 L325.0,55.21 L325.5,55.10 L326.0,54.98 L326.5,54.87 L327.0,54.76 L327.5,54.65 L328.0,54.54 L328.5,54.44 L329.0,54.33 L329.5,54.23 L330.0,54.12 L330.5,54.02 L331.0,53.92 L331.5,53.82 L332.0,53.73 L332.5,53.63 L333.0,53.53 L333.5,53.44 L334.0,53.34 L334.5,53.25 L335.0,53.15 L335.5,53.06 L336.0,52.97 L336.5,52.88 L337.0,52.79 L337.5,52.70 L338.0,52.62 L338.5,52.54 L339.0,52.46 L339.5,52.39 L340.0,52.31 L340.5,52.25 L341.0,52.18 L341.5,52.12 L342.0,52.06 L342.5,52.01 L343.0,51.95 L343.5,51.90 L344.0,51.86 L344.5,51.81 L345.0,51.76 L345.5,51.72 L346.0,51.68 L346.5,51.63 L347.0,51.59 L347.5,51.55 L348.0,51.51 L348.5,51.48 L349.0,51.44 L349.5,51.40 L350.0,51.36 L350.5,51.33 L351.0,51.29 L351.5,51.25 L352.0,51.21 L352.5,51.18 L353.0,51.14 L353.5,51.10 L354.0,51.07 L354.5,51.03 L355.0,51.00 L355.5,50.96 L356.0,50.93 L356.5,50.89 L357.0,50.86 L357.5,50.82 L358.0,50.79 L358.5,50.76 L359.0,50.72 L359.5,50.69 L360.0,50.66 L360.5,50.63 L361.0,50.60 L361.5,50.57 L362.0,50.54 L362.5,50.51 L363.0,50.49 L363.5,50.46 L364.0,50.44 L364.5,50.41 L365.0,50.39 L365.5,50.36 L366.0,50.34 L366.5,50.32 L367.0,50.30 L367.5,50.28 L368.0,50.26 L368.5,50.24 L369.0,50.21 L369.5,50.19 L370.0,50.17 L370.5,50.15 L371.0,50.12 L371.5,50.10 L372.0,50.07 L372.5,50.04 L373.0,50.01 L373.5,49.98 L374.0,49.95 L374.5,49.92 L375.0,49.88 L375.5,49.85 L376.0,49.81 L376.5,49.77 L377.0,49.73 L377.5,49.69 L378.0,49.64 L378.5,49.60 L379.0,49.56 L379.5,49.51 L380.0,49.46 L380.5,49.42 L381.0,49.37 L381.5,49.32 L382.0,49.27 L382.5,49.23 L383.0,49.18 L383.5,49.13 L384.0,49.08 L384.5,49.03 L385.0,48.97 L385.5,48.92 L386.0,48.86 L386.5,48.81 L387.0,48.75 L387.5,48.69 L388.0,48.63 L388.5,48.57 L389.0,48.51 L389.5,48.45 L390.0,48.38 L390.5,48.32 L391.0,48.26 L391.5,48.19 L392.0,48.13 L392.5,48.07 L393.0,48.00 L393.5,47.94 L394.0,47.88 L394.5,47.81 L395.0,47.75 L395.5,47.69 L396.0,47.63 L396.5,47.57 L397.0,47.52 L397.5,47.46 L398.0,47.41 L398.5,47.35 L399.0,47.30 L399.5,47.25 L400.0,47.20 L400.5,47.16 L401.0,47.11 L401.5,47.06 L402.0,47.02 L402.5,46.97 L403.0,46.93 L403.5,46.88 L404.0,46.84 L404.5,46.79 L405.0,46.75 L405.5,46.71 L406.0,46.67 L406.5,46.63 L407.0,46.60 L407.5,46.56 L408.0,46.53 L408.5,46.49 L409.0,46.46 L409.5,46.43 L410.0,46.40 L410.5,46.38 L411.0,46.35 L411.5,46.32 L412.0,46.30 L412.5,46.28 L413.0,46.25 L413.5,46.23 L414.0,46.21 L414.5,46.19 L415.0,46.17 L415.5,46.14 L416.0,46.12 L416.5,46.10 L417.0,46.09 L417.5,46.07 L418.0,46.05 L418.5,46.03 L419.0,46.01 L419.5,45.99 L420.0,45.98 L420.5,45.96 L421.0,45.94 L421.5,45.93 L422.0,45.91 L422.5,45.89 L423.0,45.88 L423.5,45.86 L424.0,45.85 L424.5,45.83 L425.0,45.81 L425.5,45.80 L426.0,45.78 L426.5,45.77 L427.0,45.75 L427.5,45.74 L428.0,45.72 L428.5,45.70 L429.0,45.69 L429.5,45.67 L430.0,45.65 L430.5,45.64 L431.0,45.62 L431.5,45.60 L432.0,45.59 L432.5,45.57 L433.0,45.55 L433.5,45.53 L434.0,45.51 L434.5,45.49 L435.0,45.47 L435.5,45.45 L436.0,45.43 L436.5,45.41 L437.0,45.39 L437.5,45.37 L438.0,45.35 L438.5,45.33 L439.0,45.30 L439.5,45.28 L440.0,45.26 L440.5,45.24 L441.0,45.21 L441.5,45.19 L442.0,45.17 L442.5,45.14 L443.0,45.12 L443.5,45.09 L444.0,45.07 L444.5,45.04 L445.0,45.02 L445.5,44.99 L446.0,44.97 L446.5,44.94 L447.0,44.92 L447.5,44.89 L448.0,44.87 L448.5,44.84 L449.0,44.82 L449.5,44.79 L450.0,44.77 L450.5,44.74 L451.0,44.71 L451.5,44.69 L452.0,44.66 L452.5,44.64 L453.0,44.61 L453.5,44.59 L454.0,44.56 L454.5,44.54 L455.0,44.51 L455.5,44.49 L456.0,44.46 L456.5,44.44 L457.0,44.41 L457.5,44.39 L458.0,44.36 L458.5,44.34 L459.0,44.31 L459.5,44.29 L460.0,44.26 L460.5,44.24 L461.0,44.22 L461.5,44.19 L462.0,44.17 L462.5,44.15 L463.0,44.12 L463.5,44.10 L464.0,44.08 L464.5,44.05 L465.0,44.03 L465.5,44.01 L466.0,43.99 L466.5,43.96 L467.0,43.94 L467.5,43.92 L468.0,43.90 L468.5,43.87 L469.0,43.85 L469.5,43.83 L470.0,43.81 L470.5,43.79 L471.0,43.76 L471.5,43.74 L472.0,43.72 L472.5,43.70 L473.0,43.68 L473.5,43.65 L474.0,43.63 L474.5,43.61 L475.0,43.59 L475.5,43.57 L476.0,43.55 L476.5,43.52 L477.0,43.50 L477.5,43.48 L478.0,43.46 L478.5,43.44 L479.0,43.42 L479.5,43.40 L480.0,43.38 L480.5,43.35 L481.0,43.33 L481.5,43.31 L482.0,43.29 L482.5,43.27 L483.0,43.25 L483.5,43.23 L484.0,43.21 L484.5,43.19 L485.0,43.17 L485.5,43.15 L486.0,43.13 L486.5,43.11 L487.0,43.09 L487.5,43.07 L488.0,43.05 L488.5,43.03 L489.0,43.01 L489.1,42.99" fill="none" stroke="#ff00ff" stroke-width="1.45" stroke-dasharray="0.83,0.90"/>
<path d="M92.5,346.18 L93.0,346.15 L93.5,346.12 L94.0,346.08 L94.5,346.05 L95.0,346.01 L95.5,345.97 L96.0,345.93 L96.5,345.88 L97.0,345.84 L97.5,345.79 L98.0,345.74 L98.5,345.69 L99.0,345.63 L99.5,345.57 L100.0,345.51 L100.5,345.45 L101.0,345.38 L101.5,345.31 L102.0,345.23 L102.5,345.15 L103.0,345.07 L103.5,344.98 L104.0,344.88 L104.5,344.78 L105.0,344.67 L105.5,344.56 L106.0,344.44 L106.5,344.31 L107.0,344.17 L107.5,344.03 L108.0,343.88 L108.5,343.72 L109.0,343.55 L109.5,343.38 L110.0,343.20 L110.5,343.02 L111.0,342.82 L111.5,342.62 L112.0,342.42 L112.5,342.21 L113.0,341.99 L113.5,341.76 L114.0,341.53 L114.5,341.29 L115.0,341.04 L115.5,340.78 L116.0,340.51 L116.5,340.24 L117.0,339.96 L117.5,339.66 L118.0,339.36 L118.5,339.05 L119.0,338.73 L119.5,338.40 L120.0,338.06 L120.5,337.71 L121.0,337.34 L121.5,336.97 L122.0,336.59 L122.5,336.20 L123.0,335.80 L123.5,335.39 L124.0,334.97 L124.5,334.55 L125.0,334.11 L125.5,333.66 L126.0,333.20 L126.5,332.74 L127.0,332.27 L127.5,331.79 L128.0,331.31 L128.5,330.82 L129.0,330.32 L129.5,329.83 L130.0,329.33 L130.5,328.82 L131.0,328.32 L131.5,327.82 L132.0,327.32 L132.5,326.81 L133.0,326.31 L133.5,325.81 L134.0,325.30 L134.5,324.80 L135.0,324.30 L135.5,323.80 L136.0,323.29 L136.5,322.79 L137.0,322.29 L137.5,321.79 L138.0,321.29 L138.5,320.79 L139.0,320.30 L139.5,319.80 L140.0,319.31 L140.5,318.82 L141.0,318.33 L141.5,317.84 L142.0,317.36 L142.5,316.88 L143.0,316.41 L143.5,315.94 L144.0,315.47 L144.5,315.01 L145.0,314.54 L145.5,314.08 L146.0,313.63 L146.5,313.17 L147.0,312.71 L147.5,312.26 L148.0,311.80 L148.5,311.35 L149.0,310.89 L149.5,310.44 L150.0,309.98 L150.5,309.52 L151.0,309.06 L151.5,308.60 L152.0,308.14 L152.5,307.69 L153.0,307.23 L153.5,306.77 L154.0,306.31 L154.5,305.86 L155.0,305.41 L155.5,304.96 L156.0,304.52 L156.5,304.09 L157.0,303.66 L157.5,303.24 L158.0,302.83 L158.5,302.42 L159.0,302.03 L159.5,301.65 L160.0,301.28 L160.5,300.92 L161.0,300.57 L161.5,300.23 L162.0,299.90 L162.5,299.58 L163.0,299.27 L163.5,298.97 L164.0,298.68 L164.5,298.39 L165.0,298.12 L165.5,297.86 L166.0,297.61 L166.5,297.37 L167.0,297.13 L167.5,296.91 L168.0,296.70 L168.5,296.50 L169.0,296.31 L169.5,296.12 L170.0,295.95 L170.5,295.78 L171.0,295.63 L171.5,295.48 L172.0,295.34 L172.5,295.21 L173.0,295.09 L173.5,294.97 L174.0,294.86 L174.5,294.76 L175.0,294.67 L175.5,294.58 L176.0,294.50 L176.5,294.43 L177.0,294.36 L177.5,294.29 L178.0,294.24 L178.5,294.18 L179.0,294.14 L179.5,294.10 L180.0,294.06 L180.5,294.03 L181.0,294.00 L181.5,293.98 L182.0,293.97 L182.5,293.97 L183.0,293.97 L183.5,293.98 L184.0,294.00 L184.5,294.03 L185.0,294.06 L185.5,294.11 L186.0,294.16 L186.5,294.23 L187.0,294.30 L187.5,294.37 L188.0,294.46 L188.5,294.56 L189.0,294.66 L189.5,294.77 L190.0,294.89 L190.5,295.01 L191.0,295.15 L191.5,295.29 L192.0,295.43 L192.5,295.59 L193.0,295.76 L193.5,295.93 L194.0,296.11 L194.5,296.30 L195.0,296.50 L195.5,296.70 L196.0,296.92 L196.5,297.14 L197.0,297.37 L197.5,297.61 L198.0,297.85 L198.5,298.11 L199.0,298.36 L199.5,298.63 L200.0,298.90 L200.5,299.18 L201.0,299.47 L201.5,299.77 L202.0,300.07 L202.5,300.38 L203.0,300.70 L203.5,301.02 L204.0,301.35 L204.5,301.69 L205.0,302.04 L205.5,302.40 L206.0,302.76 L206.5,303.13 L207.0,303.50 L207.5,303.89 L208.0,304.28 L208.5,304.68 L209.0,305.08 L209.5,305.49 L210.0,305.92 L210.5,306.34 L211.0,306.78 L211.5,307.23 L212.0,307.68 L212.5,308.14 L213.0,308.61 L213.5,309.08 L214.0,309.56 L214.5,310.05 L215.0,310.54 L215.5,311.03 L216.0,311.53 L216.5,312.02 L217.0,312.52 L217.5,313.02 L218.0,313.51 L218.5,314.00 L219.0,314.49 L219.5,314.97 L220.0,315.45 L220.5,315.92 L221.0,316.39 L221.5,316.85 L222.0,317.31 L222.5,317.77 L223.0,318.22 L223.5,318.66 L224.0,319.11 L224.5,319.55 L225.0,319.99 L225.5,320.43 L226.0,320.87 L226.5,321.31 L227.0,321.74 L227.5,322.18 L228.0,322.62 L228.5,323.05 L229.0,323.49 L229.5,323.93 L230.0,324.38 L230.5,324.82 L231.0,325.26 L231.5,325.71 L232.0,326.15 L232.5,326.60 L233.0,327.04 L233.5,327.49 L234.0,327.93 L234.5,328.37 L235.0,328.81 L235.5,329.24 L236.0,329.67 L236.5,330.09 L237.0,330.51 L237.5,330.92 L238.0,331.32 L238.5,331.72 L239.0,332.11 L239.5,332.49 L240.0,332.87 L240.5,333.24 L241.0,333.60 L241.5,333.95 L242.0,334.30 L242.5,334.64 L243.0,334.97 L243.5,335.30 L244.0,335.62 L244.5,335.93 L245.0,336.24 L245.5,336.53 L246.0,336.82 L246.5,337.10 L247.0,337.38 L247.5,337.64 L248.0,337.90 L248.5,338.15 L249.0,338.39 L249.5,338.62 L250.0,338.85 L250.5,339.07 L251.0,339.29 L251.5,339.49 L252.0,339.69 L252.5,339.89 L253.0,340.07 L253.5,340.25 L254.0,340.42 L254.5,340.59 L255.0,340.74 L255.5,340.89 L256.0,341.03 L256.5,341.16 L257.0,341.28 L257.5,341.40 L258.0,341.50 L258.5,341.60 L259.0,341.69 L259.5,341.77 L260.0,341.84 L260.5,341.91 L261.0,341.96 L261.5,342.01 L262.0,342.04 L262.5,342.07 L263.0,342.09 L263.5,342.10 L264.0,342.10 L264.5,342.09 L265.0,342.07 L265.5,342.04 L266.0,342.00 L266.5,341.95 L267.0,341.89 L267.5,341.82 L268.0,341.75 L268.5,341.66 L269.0,341.56 L269.5,341.46 L270.0,341.35 L270.5,341.24 L271.0,341.12 L271.5,340.99 L272.0,340.85 L272.5,340.72 L273.0,340.57 L273.5,340.42 L274.0,340.27 L274.5,340.11 L275.0,339.94 L275.5,339.77 L276.0,339.59 L276.5,339.41 L277.0,339.22 L277.5,339.02 L278.0,338.81 L278.5,338.60 L279.0,338.37 L279.5,338.14 L280.0,337.90 L280.5,337.66 L281.0,337.40 L281.5,337.14 L282.0,336.87 L282.5,336.59 L283.0,336.31 L283.5,336.02 L284.0,335.72 L284.5,335.41 L285.0,335.10 L285.5,334.78 L286.0,334.45 L286.5,334.11 L287.0,333.77 L287.5,333.41 L288.0,333.05 L288.5,332.67 L289.0,332.29 L289.5,331.90 L290.0,331.49 L290.5,331.08 L291.0,330.66 L291.5,330.24 L292.0,329.80 L292.5,329.36 L293.0,328.92 L293.5,328.47 L294.0,328.02 L294.5,327.56 L295.0,327.11 L295.5,326.65 L296.0,326.19 L296.5,325.72 L297.0,325.26 L297.5,324.80 L298.0,324.34 L298.5,323.87 L299.0,323.41 L299.5,322.95 L300.0,322.48 L300.5,322.02 L301.0,321.56 L301.5,321.09 L302.0,320.63 L302.5,320.17 L303.0,319.71 L303.5,319.25 L304.0,318.80 L304.5,318.34 L305.0,317.89 L305.5,317.45 L306.0,317.01 L306.5,316.57 L307.0,316.13 L307.5,315.70 L308.0,315.28 L308.5,314.85 L309.0,314.44 L309.5,314.02 L310.0,313.61 L310.5,313.21 L311.0,312.81 L311.5,312.41 L312.0,312.02 L312.5,311.63 L313.0,311.25 L313.5,310.87 L314.0,310.51 L314.5,310.14 L315.0,309.79 L315.5,309.44 L316.0,309.09 L316.5,308.76 L317.0,308.43 L317.5,308.11 L318.0,307.80 L318.5,307.50 L319.0,307.20 L319.5,306.91 L320.0,306.63 L320.5,306.35 L321.0,306.08 L321.5,305.82 L322.0,305.56 L322.5,305.31 L323.0,305.06 L323.5,304.82 L324.0,304.59 L324.5,304.36 L325.0,304.14 L325.5,303.92 L326.0,303.71 L326.5,303.51 L327.0,303.31 L327.5,303.12 L328.0,302.94 L328.5,302.76 L329.0,302.58 L329.5,302.41 L330.0,302.25 L330.5,302.10 L331.0,301.94 L331.5,301.80 L332.0,301.65 L332.5,301.52 L333.0,301.38 L333.5,301.26 L334.0,301.13 L334.5,301.01 L335.0,300.89 L335.5,300.78 L336.0,300.67 L336.5,300.56 L337.0,300.46 L337.5,300.36 L338.0,300.26 L338.5,300.17 L339.0,300.07 L339.5,299.99 L340.0,299.90 L340.5,299.82 L341.0,299.75 L341.5,299.68 L342.0,299.62 L342.5,299.56 L343.0,299.51 L343.5,299.47 L344.0,299.44 L344.5,299.42 L345.0,299.41 L345.5,299.41 L346.0,299.42 L346.5,299.44 L347.0,299.47 L347.5,299.51 L348.0,299.56 L348.5,299.62 L349.0,299.69 L349.5,299.76 L350.0,299.85 L350.5,299.94 L351.0,300.04 L351.5,300.15 L352.0,300.26 L352.5,300.37 L353.0,300.50 L353.5,300.62 L354.0,300.75 L354.5,300.89 L355.0,301.03 L355.5,301.18 L356.0,301.33 L356.5,301.49 L357.0,301.65 L357.5,301.82 L358.0,301.99 L358.5,302.17 L359.0,302.36 L359.5,302.55 L360.0,302.74 L360.5,302.94 L361.0,303.14 L361.5,303.34 L362.0,303.55 L362.5,303.76 L363.0,303.97 L363.5,304.19 L364.0,304.41 L364.5,304.64 L365.0,304.86 L365.5,305.09 L366.0,305.32 L366.5,305.56 L367.0,305.79 L367.5,306.04 L368.0,306.28 L368.5,306.53 L369.0,306.78 L369.5,307.03 L370.0,307.28 L370.5,307.54 L371.0,307.80 L371.5,308.07 L372.0,308.34 L372.5,308.60 L373.0,308.88 L373.5,309.15 L374.0,309.43 L374.5,309.71 L375.0,309.99 L375.5,310.27 L376.0,310.56 L376.5,310.85 L377.0,311.14 L377.5,311.43 L378.0,311.73 L378.5,312.03 L379.0,312.32 L379.5,312.62 L380.0,312.92 L380.5,313.23 L381.0,313.53 L381.5,313.83 L382.0,314.13 L382.5,314.43 L383.0,314.72 L383.5,315.02 L384.0,315.31 L384.5,315.61 L385.0,315.90 L385.5,316.19 L386.0,316.47 L386.5,316.76 L387.0,317.04 L387.5,317.32 L388.0,317.59 L388.5,317.87 L389.0,318.14 L389.5,318.41 L390.0,318.68 L390.5,318.94 L391.0,319.20 L391.5,319.46 L392.0,319.71 L392.5,319.95 L393.0,320.19 L393.5,320.43 L394.0,320.66 L394.5,320.89 L395.0,321.11 L395.5,321.33 L396.0,321.54 L396.5,321.74 L397.0,321.94 L397.5,322.14 L398.0,322.33 L398.5,322.52 L399.0,322.70 L399.5,322.88 L400.0,323.06 L400.5,323.23 L401.0,323.40 L401.5,323.57 L402.0,323.73 L402.5,323.90 L403.0,324.05 L403.5,324.21 L404.0,324.36 L404.5,324.52 L405.0,324.67 L405.5,324.81 L406.0,324.96 L406.5,325.11 L407.0,325.25 L407.5,325.39 L408.0,325.53 L408.5,325.67 L409.0,325.80 L409.5,325.94 L410.0,326.07 L410.5,326.19 L411.0,326.32 L411.5,326.44 L412.0,326.55 L412.5,326.67 L413.0,326.78 L413.5,326.88 L414.0,326.98 L414.5,327.08 L415.0,327.18 L415.5,327.27 L416.0,327.35 L416.5,327.44 L417.0,327.52 L417.5,327.59 L418.0,327.67 L418.5,327.74 L419.0,327.81 L419.5,327.88 L420.0,327.94 L420.5,328.00 L421.0,328.06 L421.5,328.12 L422.0,328.18 L422.5,328.23 L423.0,328.28 L423.5,328.33 L424.0,328.37 L424.5,328.41 L425.0,328.45 L425.5,328.48 L426.0,328.51 L426.5,328.54 L427.0,328.56 L427.5,328.57 L428.0,328.59 L428.5,328.59 L429.0,328.59 L429.5,328.59 L430.0,328.58 L430.5,328.57 L431.0,328.55 L431.5,328.53 L432.0,328.50 L432.5,328.47 L433.0,328.43 L433.5,328.39 L434.0,328.35 L434.5,328.30 L435.0,328.24 L435.5,328.18 L436.0,328.12 L436.5,328.06 L437.0,327.99 L437.5,327.92 L438.0,327.85 L438.5,327.77 L439.0,327.69 L439.5,327.61 L440.0,327.53 L440.5,327.44 L441.0,327.35 L441.5,327.26 L442.0,327.18 L442.5,327.08 L443.0,326.99 L443.5,326.90 L444.0,326.81 L444.5,326.72 L445.0,326.62 L445.5,326.53 L446.0,326.44 L446.5,326.34 L447.0,326.25 L447.5,326.16 L448.0,326.06 L448.5,325.97 L449.0,325.88 L449.5,325.79 L450.0,325.70 L450.5,325.61 L451.0,325.52 L451.5,325.42 L452.0,325.33 L452.5,325.24 L453.0,325.14 L453.5,325.05 L454.0,324.95 L454.5,324.86 L455.0,324.76 L455.5,324.66 L456.0,324.56 L456.5,324.46 L457.0,324.36 L457.5,324.26 L458.0,324.16 L458.5,324.06 L459.0,323.95 L459.5,323.85 L460.0,323.75 L460.5,323.64 L461.0,323.54 L461.5,323.43 L462.0,323.33 L462.5,323.22 L463.0,323.12 L463.5,323.01 L464.0,322.91 L464.5,322.81 L465.0,322.70 L465.5,322.60 L466.0,322.50 L466.5,322.39 L467.0,322.29 L467.5,322.19 L468.0,322.09 L468.5,321.99 L469.0,321.89 L469.5,321.79 L470.0,321.69 L470.5,321.59 L471.0,321.49 L471.5,321.39 L472.0,321.30 L472.5,321.20 L473.0,321.10 L473.5,321.00 L474.0,320.90 L474.5,320.81 L475.0,320.71 L475.5,320.61 L476.0,320.51 L476.5,320.41 L477.0,320.32 L477.5,320.22 L478.0,320.12 L478.5,320.02 L479.0,319.92 L479.5,319.82 L480.0,319.72 L480.5,319.61 L481.0,319.51 L481.5,319.41 L482.0,319.30 L482.5,319.20 L483.0,319.09 L483.5,318.99 L484.0,318.88 L484.5,318.77 L485.0,318.66 L485.5,318.55 L486.0,318.44 L486.5,318.33 L487.0,318.22 L487.5,318.11 L488.0,318.00 L488.5,317.88 L489.0,317.77 L489.5,317.65 L490.0,317.54 L490.5,317.43 L490.9,317.31" fill="none" stroke="#00ffff" stroke-width="1.25" stroke-dasharray="3.45,1.38,0.69,1.38"/>
<path d="M153.5,346.17 L154.0,346.14 L154.5,346.11 L155.0,346.07 L155.5,346.03 L156.0,345.99 L156.5,345.95 L157.0,345.91 L157.5,345.86 L158.0,345.81 L158.5,345.76 L159.0,345.71 L159.5,345.66 L160.0,345.60 L160.5,345.55 L161.0,345.49 L161.5,345.43 L162.0,345.37 L162.5,345.31 L163.0,345.25 L163.5,345.18 L164.0,345.12 L164.5,345.05 L165.0,344.98 L165.5,344.91 L166.0,344.84 L166.5,344.77 L167.0,344.70 L167.5,344.62 L168.0,344.55 L168.5,344.47 L169.0,344.40 L169.5,344.32 L170.0,344.24 L170.5,344.17 L171.0,344.09 L171.5,344.01 L172.0,343.93 L172.5,343.86 L173.0,343.78 L173.5,343.70 L174.0,343.62 L174.5,343.54 L175.0,343.46 L175.5,343.38 L176.0,343.30 L176.5,343.22 L177.0,343.13 L177.5,343.05 L178.0,342.97 L178.5,342.88 L179.0,342.79 L179.5,342.70 L180.0,342.61 L180.5,342.52 L181.0,342.43 L181.5,342.33 L182.0,342.23 L182.5,342.13 L183.0,342.03 L183.5,341.92 L184.0,341.82 L184.5,341.70 L185.0,341.59 L185.5,341.47 L186.0,341.35 L186.5,341.22 L187.0,341.10 L187.5,340.97 L188.0,340.83 L188.5,340.69 L189.0,340.55 L189.5,340.41 L190.0,340.26 L190.5,340.11 L191.0,339.96 L191.5,339.80 L192.0,339.64 L192.5,339.48 L193.0,339.32 L193.5,339.15 L194.0,338.99 L194.5,338.82 L195.0,338.64 L195.5,338.47 L196.0,338.29 L196.5,338.12 L197.0,337.94 L197.5,337.76 L198.0,337.57 L198.5,337.39 L199.0,337.21 L199.5,337.02 L200.0,336.83 L200.5,336.64 L201.0,336.45 L201.5,336.26 L202.0,336.07 L202.5,335.87 L203.0,335.67 L203.5,335.48 L204.0,335.28 L204.5,335.07 L205.0,334.87 L205.5,334.67 L206.0,334.46 L206.5,334.25 L207.0,334.04 L207.5,333.83 L208.0,333.62 L208.5,333.41 L209.0,333.19 L209.5,332.98 L210.0,332.76 L210.5,332.54 L211.0,332.33 L211.5,332.11 L212.0,331.89 L212.5,331.67 L213.0,331.45 L213.5,331.23 L214.0,331.01 L214.5,330.79 L215.0,330.57 L215.5,330.35 L216.0,330.13 L216.5,329.91 L217.0,329.68 L217.5,329.46 L218.0,329.24 L218.5,329.01 L219.0,328.79 L219.5,328.57 L220.0,328.34 L220.5,328.12 L221.0,327.90 L221.5,327.67 L222.0,327.45 L222.5,327.22 L223.0,327.00 L223.5,326.77 L224.0,326.55 L224.5,326.33 L225.0,326.10 L225.5,325.88 L226.0,325.66 L226.5,325.44 L227.0,325.21 L227.5,324.99 L228.0,324.77 L228.5,324.56 L229.0,324.34 L229.5,324.12 L230.0,323.91 L230.5,323.69 L231.0,323.48 L231.5,323.27 L232.0,323.06 L232.5,322.85 L233.0,322.64 L233.5,322.43 L234.0,322.22 L234.5,322.01 L235.0,321.80 L235.5,321.59 L236.0,321.38 L236.5,321.17 L237.0,320.96 L237.5,320.74 L238.0,320.52 L238.5,320.31 L239.0,320.08 L239.5,319.86 L240.0,319.63 L240.5,319.40 L241.0,319.16 L241.5,318.92 L242.0,318.67 L242.5,318.42 L243.0,318.17 L243.5,317.91 L244.0,317.64 L244.5,317.37 L245.0,317.10 L245.5,316.83 L246.0,316.55 L246.5,316.27 L247.0,315.99 L247.5,315.71 L248.0,315.43 L248.5,315.15 L249.0,314.87 L249.5,314.60 L250.0,314.32 L250.5,314.06 L251.0,313.79 L251.5,313.53 L252.0,313.27 L252.5,313.02 L253.0,312.77 L253.5,312.53 L254.0,312.29 L254.5,312.05 L255.0,311.82 L255.5,311.59 L256.0,311.36 L256.5,311.14 L257.0,310.91 L257.5,310.69 L258.0,310.47 L258.5,310.26 L259.0,310.04 L259.5,309.82 L260.0,309.61 L260.5,309.40 L261.0,309.18 L261.5,308.97 L262.0,308.76 L262.5,308.54 L263.0,308.33 L263.5,308.12 L264.0,307.91 L264.5,307.70 L265.0,307.49 L265.5,307.29 L266.0,307.08 L266.5,306.88 L267.0,306.67 L267.5,306.47 L268.0,306.27 L268.5,306.07 L269.0,305.88 L269.5,305.68 L270.0,305.49 L270.5,305.30 L271.0,305.11 L271.5,304.93 L272.0,304.74 L272.5,304.56 L273.0,304.38 L273.5,304.20 L274.0,304.03 L274.5,303.85 L275.0,303.68 L275.5,303.51 L276.0,303.34 L276.5,303.17 L277.0,303.00 L277.5,302.84 L278.0,302.67 L278.5,302.51 L279.0,302.35 L279.5,302.18 L280.0,302.02 L280.5,301.86 L281.0,301.70 L281.5,301.54 L282.0,301.38 L282.5,301.22 L283.0,301.07 L283.5,300.91 L284.0,300.75 L284.5,300.60 L285.0,300.44 L285.5,300.29 L286.0,300.14 L286.5,299.99 L287.0,299.84 L287.5,299.69 L288.0,299.54 L288.5,299.40 L289.0,299.25 L289.5,299.11 L290.0,298.97 L290.5,298.83 L291.0,298.69 L291.5,298.55 L292.0,298.42 L292.5,298.29 L293.0,298.16 L293.5,298.03 L294.0,297.90 L294.5,297.78 L295.0,297.65 L295.5,297.53 L296.0,297.41 L296.5,297.29 L297.0,297.18 L297.5,297.06 L298.0,296.94 L298.5,296.83 L299.0,296.72 L299.5,296.60 L300.0,296.49 L300.5,296.38 L301.0,296.27 L301.5,296.16 L302.0,296.05 L302.5,295.94 L303.0,295.84 L303.5,295.73 L304.0,295.62 L304.5,295.52 L305.0,295.41 L305.5,295.31 L306.0,295.20 L306.5,295.10 L307.0,295.00 L307.5,294.90 L308.0,294.80 L308.5,294.70 L309.0,294.60 L309.5,294.51 L310.0,294.41 L310.5,294.32 L311.0,294.23 L311.5,294.14 L312.0,294.05 L312.5,293.97 L313.0,293.88 L313.5,293.80 L314.0,293.72 L314.5,293.64 L315.0,293.57 L315.5,293.49 L316.0,293.42 L316.5,293.35 L317.0,293.28 L317.5,293.21 L318.0,293.15 L318.5,293.09 L319.0,293.03 L319.5,292.97 L320.0,292.91 L320.5,292.86 L321.0,292.81 L321.5,292.76 L322.0,292.71 L322.5,292.66 L323.0,292.62 L323.5,292.58 L324.0,292.54 L324.5,292.51 L325.0,292.47 L325.5,292.44 L326.0,292.41 L326.5,292.38 L327.0,292.35 L327.5,292.32 L328.0,292.30 L328.5,292.27 L329.0,292.25 L329.5,292.22 L330.0,292.20 L330.5,292.18 L331.0,292.16 L331.5,292.14 L332.0,292.12 L332.5,292.09 L333.0,292.07 L333.5,292.05 L334.0,292.03 L334.5,292.01 L335.0,291.99 L335.5,291.97 L336.0,291.95 L336.5,291.93 L337.0,291.91 L337.5,291.89 L338.0,291.87 L338.5,291.85 L339.0,291.82 L339.5,291.80 L340.0,291.78 L340.5,291.76 L341.0,291.74 L341.5,291.72 L342.0,291.70 L342.5,291.68 L343.0,291.65 L343.5,291.63 L344.0,291.61 L344.5,291.59 L345.0,291.57 L345.5,291.55 L346.0,291.53 L346.5,291.51 L347.0,291.50 L347.5,291.48 L348.0,291.46 L348.5,291.44 L349.0,291.43 L349.5,291.41 L350.0,291.39 L350.5,291.38 L351.0,291.36 L351.5,291.35 L352.0,291.34 L352.5,291.32 L353.0,291.31 L353.5,291.30 L354.0,291.29 L354.5,291.27 L355.0,291.26 L355.5,291.25 L356.0,291.24 L356.5,291.23 L357.0,291.22 L357.5,291.22 L358.0,291.21 L358.5,291.20 L359.0,291.19 L359.5,291.18 L360.0,291.17 L360.5,291.16 L361.0,291.16 L361.5,291.15 L362.0,291.14 L362.5,291.13 L363.0,291.12 L363.5,291.11 L364.0,291.10 L364.5,291.09 L365.0,291.08 L365.5,291.07 L366.0,291.06 L366.5,291.05 L367.0,291.03 L367.5,291.01 L368.0,291.00 L368.5,290.98 L369.0,290.96 L369.5,290.94 L370.0,290.91 L370.5,290.89 L371.0,290.86 L371.5,290.83 L372.0,290.80 L372.5,290.77 L373.0,290.73 L373.5,290.69 L374.0,290.65 L374.5,290.61 L375.0,290.56 L375.5,290.51 L376.0,290.47 L376.5,290.41 L377.0,290.36 L377.5,290.31 L378.0,290.25 L378.5,290.20 L379.0,290.14 L379.5,290.08 L380.0,290.03 L380.5,289.97 L381.0,289.91 L381.5,289.85 L382.0,289.79 L382.5,289.74 L383.0,289.68 L383.5,289.62 L384.0,289.57 L384.5,289.51 L385.0,289.46 L385.5,289.41 L386.0,289.36 L386.5,289.31 L387.0,289.26 L387.5,289.22 L388.0,289.17 L388.5,289.13 L389.0,289.09 L389.5,289.05 L390.0,289.01 L390.5,288.97 L391.0,288.93 L391.5,288.90 L392.0,288.86 L392.5,288.83 L393.0,288.79 L393.5,288.76 L394.0,288.73 L394.5,288.70 L395.0,288.66 L395.5,288.63 L396.0,288.60 L396.5,288.57 L397.0,288.54 L397.5,288.50 L398.0,288.47 L398.5,288.44 L399.0,288.41 L399.5,288.37 L400.0,288.34 L400.5,288.31 L401.0,288.27 L401.5,288.24 L402.0,288.20 L402.5,288.16 L403.0,288.12 L403.5,288.08 L404.0,288.04 L404.5,288.00 L405.0,287.96 L405.5,287.91 L406.0,287.87 L406.5,287.82 L407.0,287.78 L407.5,287.73 L408.0,287.68 L408.5,287.63 L409.0,287.57 L409.5,287.52 L410.0,287.47 L410.5,287.41 L411.0,287.36 L411.5,287.30 L412.0,287.24 L412.5,287.19 L413.0,287.13 L413.5,287.07 L414.0,287.01 L414.5,286.95 L415.0,286.89 L415.5,286.83 L416.0,286.77 L416.5,286.71 L417.0,286.65 L417.5,286.59 L418.0,286.52 L418.5,286.46 L419.0,286.40 L419.5,286.34 L420.0,286.28 L420.5,286.22 L421.0,286.15 L421.5,286.09 L422.0,286.03 L422.5,285.97 L423.0,285.90 L423.5,285.84 L424.0,285.78 L424.5,285.72 L425.0,285.65 L425.5,285.59 L426.0,285.53 L426.5,285.46 L427.0,285.40 L427.5,285.34 L428.0,285.27 L428.5,285.21 L429.0,285.14 L429.5,285.08 L430.0,285.02 L430.5,284.95 L431.0,284.89 L431.5,284.83 L432.0,284.76 L432.5,284.70 L433.0,284.64 L433.5,284.58 L434.0,284.51 L434.5,284.45 L435.0,284.39 L435.5,284.33 L436.0,284.27 L436.5,284.21 L437.0,284.15 L437.5,284.08 L438.0,284.03 L438.5,283.97 L439.0,283.91 L439.5,283.85 L440.0,283.79 L440.5,283.73 L441.0,283.67 L441.5,283.62 L442.0,283.56 L442.5,283.50 L443.0,283.45 L443.5,283.39 L444.0,283.33 L444.5,283.28 L445.0,283.22 L445.5,283.17 L446.0,283.11 L446.5,283.06 L447.0,283.00 L447.5,282.95 L448.0,282.89 L448.5,282.84 L449.0,282.79 L449.5,282.73 L450.0,282.68 L450.5,282.62 L451.0,282.57 L451.5,282.52 L452.0,282.47 L452.5,282.41 L453.0,282.36 L453.5,282.31 L454.0,282.26 L454.5,282.21 L455.0,282.16 L455.5,282.10 L456.0,282.05 L456.5,282.00 L457.0,281.95 L457.5,281.90 L458.0,281.85 L458.5,281.81 L459.0,281.76 L459.5,281.71 L460.0,281.66 L460.5,281.61 L461.0,281.57 L461.5,281.52 L462.0,281.47 L462.5,281.43 L463.0,281.38 L463.5,281.33 L464.0,281.29 L464.5,281.24 L465.0,281.20 L465.5,281.16 L466.0,281.11 L466.5,281.07 L467.0,281.03 L467.5,280.98 L468.0,280.94 L468.5,280.90 L469.0,280.86 L469.5,280.82 L470.0,280.78 L470.5,280.74 L471.0,280.70 L471.5,280.66 L472.0,280.62 L472.5,280.58 L473.0,280.54 L473.5,280.50 L474.0,280.46 L474.5,280.42 L475.0,280.38 L475.5,280.35 L476.0,280.31 L476.5,280.27 L477.0,280.24 L477.5,280.20 L478.0,280.16 L478.5,280.13 L479.0,280.09 L479.5,280.06 L480.0,280.02 L480.5,279.99 L481.0,279.95 L481.5,279.92 L482.0,279.89 L482.5,279.85 L483.0,279.82 L483.5,279.79 L484.0,279.76 L484.5,279.72 L485.0,279.69 L485.5,279.66 L486.0,279.63 L486.5,279.60 L487.0,279.56 L487.5,279.53 L487.9,279.50" fill="none" stroke="#505050" stroke-width="1.15" stroke-dasharray="1.38,1.38,1.38,1.38,1.38,1.38,1.38,2.76"/>
</g>
<rect x="49.6" y="28.4" width="442.0" height="318.0" fill="none" stroke="#000" stroke-width="1.05"/>
<path d="M49.60,346.4 v-4.2 M49.60,28.4 v4.2 M104.85,346.4 v-4.2 M104.85,28.4 v4.2 M160.10,346.4 v-4.2 M160.10,28.4 v4.2 M215.35,346.4 v-4.2 M215.35,28.4 v4.2 M270.60,346.4 v-4.2 M270.60,28.4 v4.2 M325.85,346.4 v-4.2 M325.85,28.4 v4.2 M381.10,346.4 v-4.2 M381.10,28.4 v4.2 M436.35,346.4 v-4.2 M436.35,28.4 v4.2 M491.60,346.4 v-4.2 M491.60,28.4 v4.2 M49.6,346.20 h4.2 M491.6,346.20 h-4.2 M49.6,282.64 h4.2 M491.6,282.64 h-4.2 M49.6,219.08 h4.2 M491.6,219.08 h-4.2 M49.6,155.52 h4.2 M491.6,155.52 h-4.2 M49.6,91.96 h4.2 M491.6,91.96 h-4.2 M49.6,28.40 h4.2 M491.6,28.40 h-4.2" fill="none" stroke="#000" stroke-width="1"/>
<g font-family="Liberation Sans, sans-serif" font-size="9.4" fill="#111" text-rendering="geometricPrecision"><text x="50.4" y="359.5" text-anchor="middle">0</text><text x="105.6" y="359.5" text-anchor="middle">1</text><text x="160.9" y="359.5" text-anchor="middle">2</text><text x="216.2" y="359.5" text-anchor="middle">3</text><text x="271.4" y="359.5" text-anchor="middle">4</text><text x="326.7" y="359.5" text-anchor="middle">5</text><text x="381.9" y="359.5" text-anchor="middle">6</text><text x="437.2" y="359.5" text-anchor="middle">7</text><text x="492.4" y="359.5" text-anchor="middle">8</text><text x="43.9" y="349.5" text-anchor="end">0</text><text x="43.9" y="285.9" text-anchor="end">0.2</text><text x="43.9" y="222.4" text-anchor="end">0.4</text><text x="43.9" y="158.8" text-anchor="end">0.6</text><text x="43.9" y="95.3" text-anchor="end">0.8</text><text x="43.9" y="31.7" text-anchor="end">1</text></g>
<path d="M230.6,147.7 L187.2,290.7 M187.9,279.6 L187.2,290.7 L192.9,281.5" fill="none" stroke="#111" stroke-width="0.85"/>
<path d="M318.7,11.3 C318.9,9.4 320.9,8.6 321.6,10.0 L324.5,18.4 C324.8,19.6 325.6,19.5 326.0,18.4 M322.2,13.4 L319.1,19.7" fill="none" stroke="#000" stroke-width="1.55" stroke-linecap="butt"/>
<path d="M306.3,367.0 C306.6,364.8 308.7,364.2 309.3,365.6 L312.6,374.0 C312.9,375.0 313.6,375.0 314.0,374.0 M309.9,369.4 L306.5,375.2" fill="none" stroke="#000" stroke-width="1.1" stroke-linecap="butt"/>
<g font-family="Liberation Serif, serif" font-size="14.5" fill="#000"><text x="174.9" y="20" font-weight="bold" xml:space="preserve">Source</text><text x="222.0" y="20" font-weight="bold" xml:space="preserve">radius</text><text x="267.2" y="20" font-weight="bold" xml:space="preserve">=</text><text x="279.2" y="20" font-weight="bold" xml:space="preserve">0.01</text><path d="M327.5,20.1 L329.3,20.1 L332.3,9.9 L330.6,9.9 Z" fill="#000" stroke="none"/><text x="332.0" y="20" font-weight="bold" xml:space="preserve">d</text><text x="262.45" y="82.1" textLength="33.75" lengthAdjust="spacing" xml:space="preserve">PIAA</text><text x="224.35" y="141.1" textLength="19.25" lengthAdjust="spacing" xml:space="preserve">4th</text><text x="247.55" y="141.1" textLength="30.85" lengthAdjust="spacing" xml:space="preserve">order</text><text x="282.75" y="141.1" textLength="49.85" lengthAdjust="spacing" xml:space="preserve">shearing</text><text x="338.05" y="141.1" textLength="83.05" lengthAdjust="spacing" xml:space="preserve">interferometer</text><text x="290.55" y="194.7" textLength="79.55" lengthAdjust="spacing" xml:space="preserve">Band−limited</text><text x="376.05" y="194.7" textLength="18.45" lengthAdjust="spacing" xml:space="preserve">4th</text><text x="399.05" y="194.7" textLength="30.85" lengthAdjust="spacing" xml:space="preserve">order</text><text x="277.75" y="285.0" textLength="79.35" lengthAdjust="spacing" xml:space="preserve">Band−limited</text><text x="362.95" y="285.0" textLength="18.65" lengthAdjust="spacing" xml:space="preserve">8th</text><text x="386.15" y="285.0" textLength="31.15" lengthAdjust="spacing" xml:space="preserve">order</text><text x="324.55" y="318.8" textLength="79.25" lengthAdjust="spacing" xml:space="preserve">Conventional</text><text x="408.55" y="318.8" textLength="69.25" lengthAdjust="spacing" xml:space="preserve">apodization</text><text x="175.65" y="374.9" textLength="47.15" lengthAdjust="spacing" xml:space="preserve">Angular</text><text x="227.35" y="374.9" textLength="61.05" lengthAdjust="spacing" xml:space="preserve">separation</text><text x="292.9" y="374.9" xml:space="preserve">(</text><text x="313.9" y="374.9" textLength="15.2" lengthAdjust="spacing" xml:space="preserve">/d)</text><text transform="translate(18.9,237.0) rotate(-90)" textLength="41.9" lengthAdjust="spacing">Useful</text><text transform="translate(18.9,192.0) rotate(-90)" textLength="63.0" lengthAdjust="spacing">throughput</text></g>
<rect x="1" y="380" width="510" height="1" fill="#eee"/>
<rect x="510" y="2" width="1" height="379" fill="#eee"/>
<rect x="0" y="0" width="512" height="1" fill="#e0e0e0"/>
<rect x="0" y="1" width="511" height="1" fill="#b0b0b0"/>
<rect x="0" y="1" width="1" height="381" fill="#8c8c8c"/>
<rect x="511" y="1" width="1" height="381" fill="#999"/>
<rect x="1" y="381" width="510" height="1" fill="#999"/>
</svg>
</body></html>
